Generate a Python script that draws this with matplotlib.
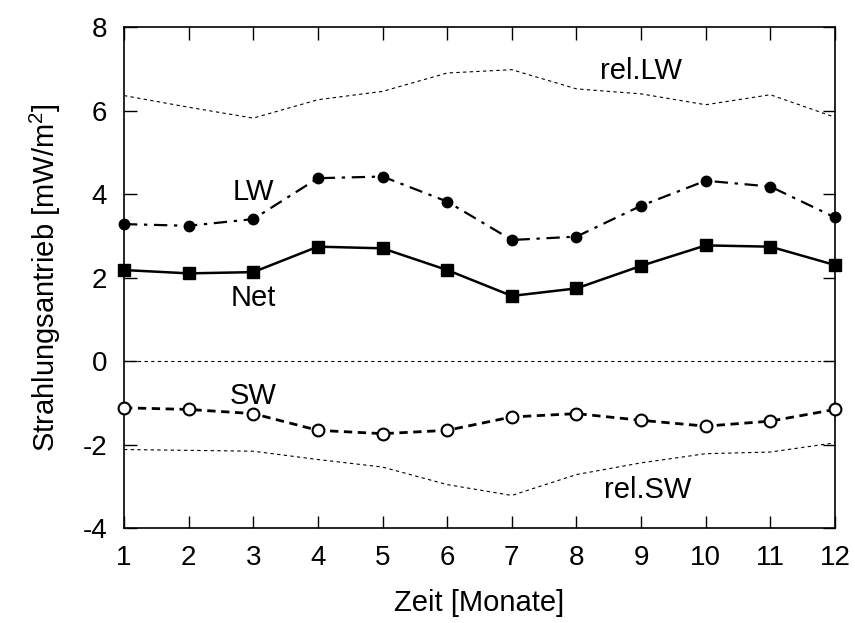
import numpy as np
import matplotlib
matplotlib.use("Agg")
import matplotlib.pyplot as plt

plt.rcParams['font.family'] = ['Liberation Sans', 'DejaVu Sans']
plt.rcParams['mathtext.fontset'] = 'custom'
plt.rcParams['mathtext.rm'] = 'Liberation Sans'
plt.rcParams['axes.unicode_minus'] = False

# Monatswerte
months = np.arange(1, 13)
rel_lw = [6.36, 6.08, 5.82, 6.26, 6.46, 6.90, 6.98, 6.52, 6.40, 6.14, 6.38, 5.84]
lw = [3.28, 3.24, 3.40, 4.38, 4.42, 3.82, 2.90, 2.98, 3.72, 4.32, 4.18, 3.44]
net = [2.18, 2.10, 2.13, 2.74, 2.70, 2.18, 1.56, 1.74, 2.28, 2.77, 2.74, 2.30]
sw = [-1.12, -1.16, -1.26, -1.66, -1.74, -1.66, -1.34, -1.26, -1.42, -1.56, -1.44, -1.16]
rel_sw = [-2.12, -2.14, -2.16, -2.36, -2.54, -2.96, -3.22, -2.72, -2.44, -2.22, -2.18, -1.96]
zero = [0] * 12

fig = plt.figure(figsize=(8.55, 6.23), dpi=100)
ax = fig.add_axes([0.145, 0.1525, 0.8316, 0.804])

# duenne Hilfslinien
ax.plot(months, rel_lw, color='black', lw=0.8, ls=(0, (3, 3)), clip_on=False)
ax.plot(months, rel_sw, color='black', lw=0.8, ls=(0, (3, 3)), clip_on=False)
ax.plot(months, zero, color='black', lw=0.8, ls=(0, (3, 3)))

# Hauptkurven
ax.plot(months, lw, color='black', lw=1.6, ls=(0, (6, 3, 1.5, 3)),
        marker='o', ms=7.5, clip_on=False, zorder=5)
ax.plot(months, net, color='black', lw=1.8, ls='-',
        marker='s', ms=8.5, clip_on=False, zorder=5)
ax.plot(months, sw, color='black', lw=2.0, ls=(0, (3, 2)),
        marker='o', ms=8.5, mfc='white', mec='black', mew=1.5,
        clip_on=False, zorder=5)

fs = 21
ax.text(3.0, 3.86, 'LW', fontsize=fs, ha='center', va='baseline')
ax.text(3.0, 1.32, 'Net', fontsize=fs, ha='center', va='baseline')
ax.text(3.0, -1.03, 'SW', fontsize=fs, ha='center', va='baseline')
ax.text(9.0, 6.76, 'rel.LW', fontsize=fs, ha='center', va='baseline')
ax.text(9.1, -3.29, 'rel.SW', fontsize=fs, ha='center', va='baseline')

ax.set_xlim(1, 12)
ax.set_ylim(-4, 8)
ax.set_xticks(months)
ax.set_yticks(np.arange(-4, 9, 2))
ax.tick_params(direction='in', top=True, right=True, length=9, width=1,
               labelsize=20, pad=12)
for s in ax.spines.values():
    s.set_linewidth(1.2)

ax.set_xlabel('Zeit [Monate]', fontsize=21, labelpad=13)
ax.set_ylabel('Strahlungsantrieb [mW/m$^2$]', fontsize=21, labelpad=14)

fig.savefig('out.png', dpi=100)
